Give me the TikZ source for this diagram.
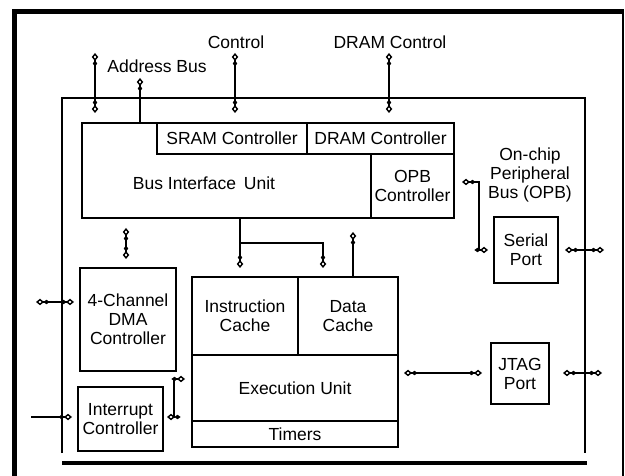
\documentclass[tikz,border=0pt]{standalone}
\usepackage{fontspec}
\setmainfont{Liberation Sans}
\usetikzlibrary{arrows.meta}
\tikzset{
  dia/.tip={Ellipse[length=5pt,width=4pt] Diamond[open,length=8pt,width=6.5pt,line width=1.4pt]},
  blk/.style={draw,line width=1.8pt,inner sep=0pt,minimum width=#1},
  lbl/.style={align=center,inner sep=0pt,font=\fontsize{17.5}{19}\selectfont},
  con/.style={line width=1.8pt},
  both/.style={con,{dia}-{dia}},
  toend/.style={con,-{dia}},
}
\begin{document}
\begin{tikzpicture}[x=1pt,y=-1pt]
\useasboundingbox (0,0) rectangle (625,476);
% outer frame
\draw[line width=5pt] (14.5,476) -- (14.5,12) -- (624,12);
\draw[line width=2.5pt] (623,12) -- (623,476);
% chip outline
\draw[line width=1.8pt] (62,453) -- (62,98) -- (585,98) -- (585,453);
\draw[line width=4pt] (62,463) -- (587,463);
% blocks
\node[blk=372pt,minimum height=95pt] (biu) at (268,170.5) {};
\node[lbl] (biut) at (204,183) {Bus Interface\hspace{3pt} Unit};
\node[blk=150pt,minimum height=31pt,lbl] (sram) at (232,138.5) {SRAM Controller};
\node[blk=147pt,minimum height=31pt,lbl] (dram) at (380.5,138.5) {DRAM Controller};
\node[blk=83pt,minimum height=64pt,lbl] (opb) at (412.5,186) {OPB\\Controller};
\node[blk=96pt,minimum height=103pt,lbl] (dma) at (128,319.5) {4-Channel\\DMA\\Controller};
\node[blk=85pt,minimum height=64pt,lbl] (intc) at (120.5,419) {Interrupt\\Controller};
\node[blk=106pt,minimum height=78pt,lbl] (icache) at (245,316) {Instruction\\Cache};
\node[blk=100pt,minimum height=78pt,lbl] (dcache) at (348,316) {Data\\Cache};
\node[blk=206pt,minimum height=66pt,lbl] (exec) at (295,388) {Execution Unit};
\node[blk=206pt,minimum height=26pt,lbl] (timers) at (295,434) {Timers};
\node[blk=64pt,minimum height=66pt,lbl] (serial) at (526,250) {Serial\\Port};
\node[blk=58pt,minimum height=61pt,lbl] (jtag) at (520,373.5) {JTAG\\Port};
% labels
\node[lbl] (addrl) at (157,66) {Address Bus};
\node[lbl] (ctrll) at (236,42) {Control};
\node[lbl] (draml) at (390,42) {DRAM Control};
\node[lbl] (opbl) at (530,175) {On-chip\\Peripheral\\Bus (OPB)};
% connector end points
\coordinate (a1) at (95,53);   \coordinate (a2) at (95,113);
\coordinate (b1) at (140,78);
\coordinate (c1) at (235,53);  \coordinate (c2) at (235,113);
\coordinate (d1) at (389,53);  \coordinate (d2) at (389,113);
\coordinate (e1) at (126,228); \coordinate (e2) at (126,259);
\coordinate (f1) at (240,268);
\coordinate (g0) at (240,243); \coordinate (g1) at (323,268);
\coordinate (h1) at (353,232);
\coordinate (i1) at (462,182); \coordinate (i2) at (488,250);
\coordinate (j1) at (565,250); \coordinate (j2) at (604,250);
\coordinate (k1) at (404,373); \coordinate (k2) at (482,373);
\coordinate (l1) at (563,373); \coordinate (l2) at (602,373);
\coordinate (m1) at (36,302);  \coordinate (m2) at (74,302);
\coordinate (n0) at (31,417);  \coordinate (n1) at (72,417);
\coordinate (o1) at (167,417); \coordinate (o2) at (185,379);
% connectors
\draw[both] (a1) -- (a2);
\draw[toend] (biu.north -| b1) -- (b1);
\draw[both] (c1) -- (c2);
\draw[both] (d1) -- (d2);
\draw[both] (e1) -- (e2);
\draw[toend] (biu.south -| f1) -- (f1);
\draw[toend] (g0) -| (g1);
\draw[toend] (dcache.north -| h1) -- (h1);
\draw[both] (i1) -- (479,182) -- (479,250) -- (i2);
\draw[both] (j1) -- (j2);
\draw[both] (k1) -- (k2);
\draw[both] (l1) -- (l2);
\draw[both] (m1) -- (m2);
\draw[toend] (n0) -- (n1);
\draw[both] (o1) -- (174,417) -- (174,379) -- (o2);
\end{tikzpicture}
\end{document}
